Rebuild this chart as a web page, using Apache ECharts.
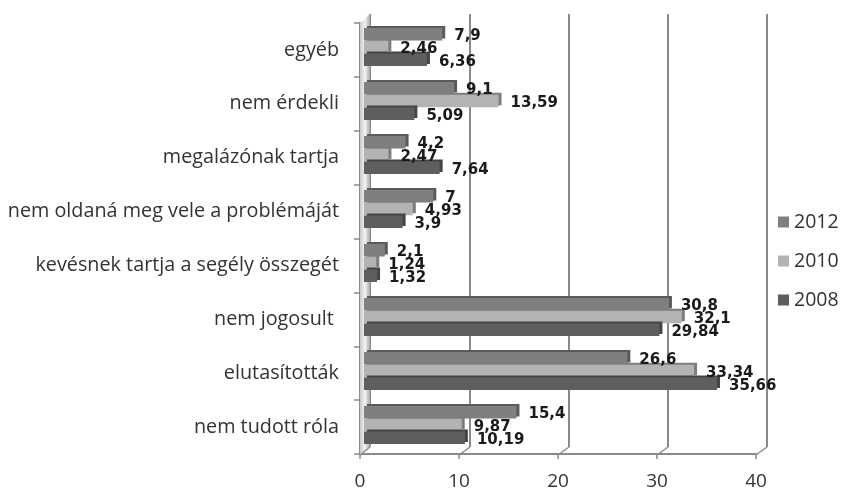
<!DOCTYPE html>
<html>
<head>
<meta charset="utf-8">
<style>html,body{margin:0;padding:0;background:#fff}#main{width:843px;height:491px}</style>
<script src="https://cdn.jsdelivr.net/npm/echarts@6/dist/echarts.min.js"></script>
</head>
<body>
<div id="main"></div>
<script>
var categories = ['egyéb', 'nem érdekli', 'megalázónak tartja', 'nem oldaná meg vele a problémáját',
    'kevésnek tartja a segély összegét', 'nem jogosult ', 'elutasították', 'nem tudott róla'];
var values2012 = [7.9, 9.1, 4.2, 7, 2.1, 30.8, 26.6, 15.4];
var values2010 = [2.46, 13.59, 2.47, 4.93, 1.24, 32.1, 33.34, 9.87];
var values2008 = [6.36, 5.09, 7.64, 3.9, 1.32, 29.84, 35.66, 10.19];
var xTicks = [0, 10, 20, 30, 40];

var font = '"Open Sans", "Noto Sans", sans-serif';
var lineColor = '#8a8a8a';

function makeSeries(name, data, color, side) {
    return {
        name: name,
        type: 'bar',
        xAxisIndex: 2,
        yAxisIndex: 2,
        data: data,
        barWidth: 12.5,
        barGap: '2%',
        z: 3,
        itemStyle: {
            color: color,
            shadowColor: side,
            shadowBlur: 0,
            shadowOffsetX: 3,
            shadowOffsetY: -2
        },
        label: {
            show: true,
            position: 'right',
            distance: 12,
            offset: [0, 2],
            color: '#1a1a1a',
            fontFamily: '"DejaVu Sans", sans-serif',
            fontWeight: 'bold',
            fontSize: 15,
            formatter: function (p) { return String(p.value).replace('.', ','); }
        }
    };
}

var chart = echarts.init(document.getElementById('main'));
chart.setOption({
    animation: false,
    backgroundColor: '#fff',
    legend: {
        orient: 'vertical',
        left: 778,
        top: 212,
        padding: 0,
        itemWidth: 11,
        itemHeight: 11,
        itemGap: 19,
        icon: 'rect',
        textStyle: { fontFamily: font, fontSize: 19.5, lineHeight: 20, color: '#333' },
        data: ['2012', '2010', '2008']
    },
    grid: [
        // front axes
        { left: 360, top: 23, width: 396, height: 432 },
        // back wall
        { left: 370, top: 14, width: 397, height: 433 },
        // bars
        { left: 364, top: 20, width: 396, height: 432 }
    ],
    xAxis: [
        {
            gridIndex: 0, type: 'value', min: 0, max: 40, interval: 10,
            axisLine: { show: true, lineStyle: { color: lineColor, width: 2 } },
            axisTick: { show: true, length: 5, lineStyle: { color: lineColor, width: 1.5 } },
            splitLine: { show: false },
            axisLabel: {
                fontFamily: font, fontSize: 19, color: '#333', margin: 18,
                customValues: xTicks
            }
        },
        {
            gridIndex: 1, type: 'value', min: 0, max: 40, interval: 10,
            axisLine: { show: false }, axisTick: { show: false }, axisLabel: { show: false },
            splitLine: { show: true, lineStyle: { color: lineColor, width: 2 } }
        },
        {
            gridIndex: 2, type: 'value', min: 0, max: 40, interval: 10,
            axisLine: { show: false }, axisTick: { show: false }, axisLabel: { show: false },
            splitLine: { show: false }
        }
    ],
    yAxis: [
        {
            gridIndex: 0, type: 'category', inverse: true, data: categories,
            axisLine: { show: true, lineStyle: { color: lineColor, width: 2 } },
            axisTick: { show: true, length: 6, lineStyle: { color: lineColor, width: 1.5 } },
            axisLabel: { fontFamily: font, fontSize: 19.8, color: '#333', margin: 21, interval: 0, padding: [6, 0, 0, 0] }
        },
        {
            gridIndex: 1, type: 'category', inverse: true, data: categories,
            axisLine: { show: false }, axisTick: { show: false }, axisLabel: { show: false }
        },
        {
            gridIndex: 2, type: 'category', inverse: true, data: categories,
            axisLine: { show: false }, axisTick: { show: false }, axisLabel: { show: false }
        }
    ],
    graphic: [
        // left wall of the 3d box
        {
            type: 'polygon', z: 1, silent: true,
            shape: { points: [[360, 23], [370, 14], [370, 447], [360, 455]] },
            style: {
                fill: new echarts.graphic.LinearGradient(0, 0, 1, 0, [
                    { offset: 0, color: '#c8c8c8' },
                    { offset: 0.5, color: '#f4f4f4' },
                    { offset: 1, color: '#a8a8a8' }
                ])
            }
        },
        // floor diagonals
        { type: 'line', z: 1, silent: true, shape: { x1: 360, y1: 455, x2: 370, y2: 447 }, style: { stroke: lineColor, lineWidth: 1.5 } },
        { type: 'line', z: 1, silent: true, shape: { x1: 459, y1: 455, x2: 470, y2: 447 }, style: { stroke: lineColor, lineWidth: 1.5 } },
        { type: 'line', z: 1, silent: true, shape: { x1: 558, y1: 455, x2: 569, y2: 447 }, style: { stroke: lineColor, lineWidth: 1.5 } },
        { type: 'line', z: 1, silent: true, shape: { x1: 657, y1: 455, x2: 668, y2: 447 }, style: { stroke: lineColor, lineWidth: 1.5 } },
        { type: 'line', z: 1, silent: true, shape: { x1: 756, y1: 455, x2: 767, y2: 447 }, style: { stroke: lineColor, lineWidth: 1.5 } }
    ],
    series: [
        makeSeries('2012', values2012, '#7f7f7f', '#5a5a5a'),
        makeSeries('2010', values2010, '#b3b3b3', '#7d7d7d'),
        makeSeries('2008', values2008, '#5e5e5e', '#454545')
    ]
});
</script>
</body>
</html>
